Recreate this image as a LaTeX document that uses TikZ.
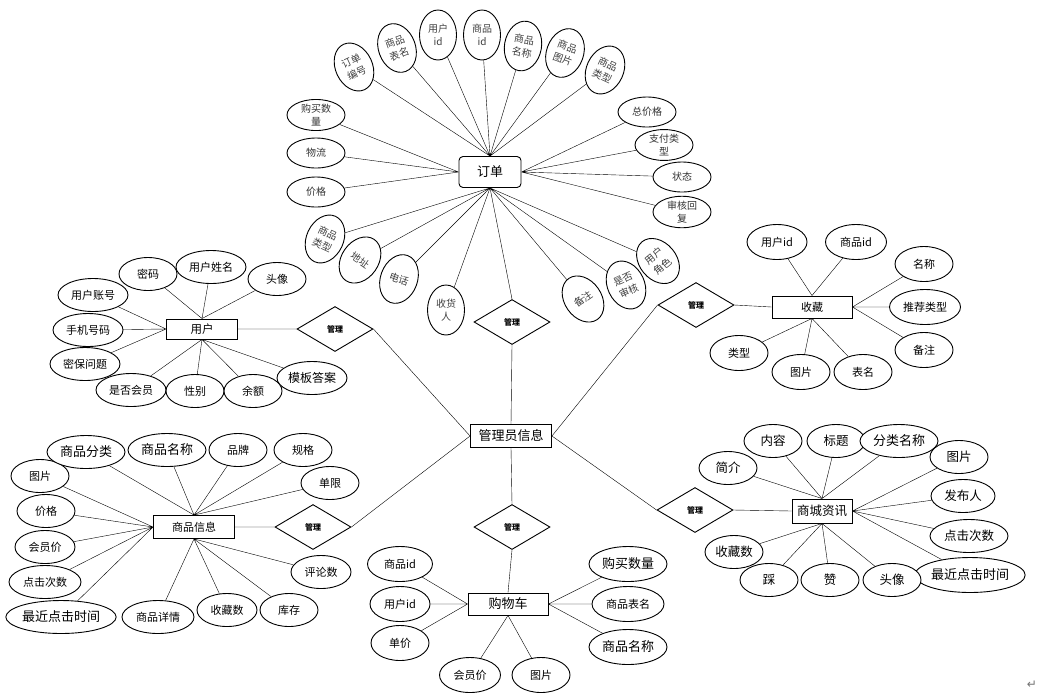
\documentclass[tikz,border=0pt]{standalone}
\usepackage{fontspec}
\setmainfont{Noto Sans CJK SC}
\newfontfamily\symfont{DejaVu Sans}
\usetikzlibrary{shapes.geometric,backgrounds}

\tikzset{
  attr/.style={ellipse,draw,fill=white,line width=0.9pt,inner sep=0pt,
    minimum width=58pt,minimum height=33pt,align=center,
    font=\fontsize{11}{13}\selectfont},
  oattr/.style={attr,minimum height=30pt,text=black!80,
    font=\fontsize{10}{13}\selectfont},
  vattr/.style={attr,minimum width=37pt,minimum height=50pt,text=black!75,
    font=\fontsize{10}{13.5}\selectfont},
  ent/.style={rectangle,draw,fill=white,line width=0.9pt,inner sep=0pt,
    minimum width=80pt,minimum height=22pt,font=\fontsize{12}{14}\selectfont},
  rel/.style={diamond,draw,fill=white,line width=0.9pt,inner sep=0pt,
    minimum width=76pt,minimum height=45pt,font=\fontsize{8}{9}\selectfont\bfseries},
  bigtxt/.style={font=\fontsize{13}{15}\selectfont},
  midtxt/.style={font=\fontsize{12.5}{14}\selectfont}
}

\begin{document}
\begin{tikzpicture}[x=1pt,y=-1pt]
\useasboundingbox (0,0) rectangle (1064,694);

% entities and relations
\node[ent,rounded corners=4pt,minimum width=62pt,minimum height=31pt,bigtxt] (order) at (490,172) {订单};
\node[ent,minimum width=81pt,minimum height=23pt,bigtxt] (admin) at (511,436) {管理员信息};
\node[ent,minimum width=71pt,minimum height=20pt,font=\fontsize{11.5}{13}\selectfont] (user) at (202,329) {用户};
\node[ent,minimum width=81pt,minimum height=23pt,font=\fontsize{11}{13}\selectfont] (goods) at (194,527) {商品信息};
\node[ent,font=\fontsize{11}{13}\selectfont] (fav) at (812,307) {收藏};
\node[ent,minimum width=60pt,minimum height=24pt,midtxt] (news) at (822,511) {商城资讯};
\node[ent,bigtxt] (cart) at (508,604) {购物车};

\node[rel] (r1) at (512,322) {管理};
\node[rel] (r2) at (335,329) {管理};
\node[rel] (r3) at (313,527) {管理};
\node[rel] (r4) at (696,305) {管理};
\node[rel] (r5) at (695,510) {管理};
\node[rel] (r6) at (512,527) {管理};

% 订单
\node[vattr,rotate=25] (o1) at (354,67) {订单\\编号};
\node[vattr,rotate=20] (o2) at (397,48) {商品\\表名};
\node[vattr] (o3) at (438,35) {用户\\id};
\node[vattr] (o4) at (482,35) {商品\\id};
\node[vattr,rotate=-10] (o5) at (523,46) {商品\\名称};
\node[vattr,rotate=-20] (o6) at (565,53) {商品\\图片};
\node[vattr,rotate=-25] (o7) at (605,70) {商品\\类型};
\node[oattr] (o8) at (316,115) {购买数\\量};
\node[oattr] (o9) at (316,153) {物流};
\node[oattr] (o10) at (316,192) {价格};
\node[oattr] (o11) at (647,112) {总价格};
\node[oattr] (o12) at (664,145) {支付类\\型};
\node[oattr] (o13) at (682,177) {状态};
\node[oattr] (o14) at (682,212) {审核回\\复};
\node[vattr,rotate=-25] (o15) at (325,239) {商品\\类型};
\node[vattr,rotate=-35] (o16) at (360,260) {地址};
\node[vattr,rotate=-20] (o17) at (399,279) {电话};
\node[vattr] (o18) at (446,310) {收货\\人};
\node[vattr,rotate=35] (o19) at (583,299) {备注};
\node[vattr,rotate=25] (o20) at (626,285) {是否\\审核};
\node[vattr,rotate=40] (o21) at (658,261) {用户\\角色};

% 用户
\node[attr] (u1) at (148,274) {密码};
\node[attr,minimum width=70pt] (u2) at (211,267) {用户姓名};
\node[attr] (u3) at (277,279) {头像};
\node[attr,minimum width=70pt] (u4) at (93,295) {用户账号};
\node[attr,minimum width=70pt] (u5) at (88,330) {手机号码};
\node[attr,minimum width=70pt] (u6) at (85,364) {密保问题};
\node[attr,minimum width=70pt] (u7) at (131,390) {是否会员};
\node[attr] (u8) at (195,391) {性别};
\node[attr] (u9) at (253,391) {余额};
\node[attr,minimum width=70pt,font=\fontsize{12}{14}\selectfont] (u10) at (312,378) {模板答案};

% 商品信息
\node[attr] (g2) at (40,476) {图片};
\node[attr,minimum width=78pt,bigtxt] (g1) at (86,452) {商品分类};
\node[attr,minimum width=78pt,bigtxt] (g3) at (167,450) {商品名称};
\node[attr] (g4) at (238,450) {品牌};
\node[attr] (g5) at (303,450) {规格};
\node[attr] (g6) at (330,483) {单限};
\node[attr] (g7) at (46,511) {价格};
\node[attr,minimum width=60pt] (g8) at (45,547) {会员价};
\node[attr,minimum width=72pt] (g9) at (45,582) {点击次数};
\node[attr,minimum width=104pt,bigtxt] (g10) at (61,617) {最近点击时间};
\node[attr,minimum width=72pt] (g11) at (158,617) {商品详情};
\node[attr,minimum width=60pt] (g12) at (227,610) {收藏数};
\node[attr] (g13) at (289,610) {库存};
\node[attr,minimum width=60pt] (g14) at (321,572) {评论数};

% 收藏
\node[attr,minimum width=60pt,minimum height=35pt] (f1) at (777,242) {用户id};
\node[attr,minimum width=61pt,minimum height=35pt] (f2) at (856,242) {商品id};
\node[attr,minimum height=35pt] (f3) at (924,264) {名称};
\node[attr,minimum width=71pt,minimum height=35pt] (f4) at (925,307) {推荐类型};
\node[attr,minimum height=35pt] (f5) at (924,350) {备注};
\node[attr,minimum height=35pt] (f6) at (739,353) {类型};
\node[attr,minimum height=35pt] (f7) at (801,372) {图片};
\node[attr,minimum height=35pt] (f8) at (863,372) {表名};

% 商城资讯
\node[attr,midtxt] (n1) at (728,468) {简介};
\node[attr,midtxt] (n2) at (773,441) {内容};
\node[attr,midtxt] (n3) at (836,441) {标题};
\node[attr,minimum width=78pt,bigtxt] (n4) at (899,441) {分类名称};
\node[attr,midtxt] (n5) at (959,457) {图片};
\node[attr,minimum width=64pt,midtxt] (n6) at (963,496) {发布人};
\node[attr,minimum width=78pt,midtxt] (n7) at (969,536) {点击次数};
\node[attr,minimum width=103pt,minimum height=35pt,bigtxt] (n8) at (970,575) {最近点击时间};
\node[attr,midtxt] (n9) at (734,552) {收藏数};
\node[attr,midtxt] (n10) at (769,580) {踩};
\node[attr,midtxt] (n11) at (830,580) {赞};
\node[attr,midtxt] (n12) at (892,580) {头像};

% 购物车
\node[attr,minimum width=65pt,minimum height=35pt] (c1) at (400,564) {商品id};
\node[attr,minimum width=60pt,minimum height=35pt] (c2) at (400,604) {用户id};
\node[attr,minimum height=35pt] (c3) at (400,643) {单价};
\node[attr,minimum width=61pt,minimum height=35pt] (c4) at (470,675) {会员价};
\node[attr,minimum height=35pt] (c5) at (541,675) {图片};
\node[attr,minimum width=78pt,minimum height=35pt,bigtxt] (c6) at (628,564) {购买数量};
\node[attr,minimum width=72pt,minimum height=35pt] (c7) at (628,604) {商品表名};
\node[attr,minimum width=78pt,minimum height=35pt,bigtxt] (c8) at (628,647) {商品名称};

\node[font=\symfont\fontsize{12}{12}\selectfont,text=black!55] (ret) at (1032,685) {↵};

\begin{scope}[on background layer,line width=0.9pt]
  \draw (order.south) -- (r1.north) (r1.south) -- (admin.north);
  \draw (user.east) -- (r2.west) (r2.east) -- (admin.west);
  \draw (goods.east) -- (r3.west) (r3.east) -- (admin.west);
  \draw (fav.west) -- (r4.east) (r4.west) -- (admin.east);
  \draw (news.west) -- (r5.east) (r5.west) -- (admin.east);
  \draw (admin.south) -- (r6.north) (r6.south) -- (cart.north);

  \draw (o1) -- (order.north) (o2) -- (order.north) (o3) -- (order.north)
        (o4) -- (order.north) (o5) -- (order.north) (o6) -- (order.north)
        (o7) -- (order.north);
  \draw (o8) -- (order.west) (o9) -- (order.west) (o10) -- (order.west);
  \draw (o11) -- (order.east) (o12) -- (order.east) (o13) -- (order.east)
        (o14) -- (order.east);
  \draw (o15) -- (order.south) (o16) -- (order.south) (o17) -- (order.south)
        (o18) -- (order.south) (o19) -- (order.south) (o20) -- (order.south)
        (o21) -- (order.south);

  \draw (u1) -- (user.north) (u2) -- (user.north) (u3) -- (user.north);
  \draw (u4) -- (user.west) (u5) -- (user.west) (u6) -- (user.west);
  \draw (u7) -- (user.south) (u8) -- (user.south) (u9) -- (user.south)
        (u10) -- (user.south);

  \draw (g1) -- (goods.north) (g3) -- (goods.north) (g4) -- (goods.north)
        (g5) -- (goods.north) (g6) -- (goods.north);
  \draw (g2) -- (goods.west) (g7) -- (goods.west) (g8) -- (goods.west)
        (g9) -- (goods.west) (g10) -- (goods.west);
  \draw (g11) -- (goods.south) (g12) -- (goods.south) (g13) -- (goods.south)
        (g14) -- (goods.south);

  \draw (f1) -- (fav.north) (f2) -- (fav.north);
  \draw (f3) -- (fav.east) (f4) -- (fav.east) (f5) -- (fav.east);
  \draw (f6) -- (fav.south) (f7) -- (fav.south) (f8) -- (fav.south);

  \draw (n1) -- (news.north) (n2) -- (news.north) (n3) -- (news.north)
        (n4) -- (news.north);
  \draw (n5) -- (news.east) (n6) -- (news.east) (n7) -- (news.east)
        (n8) -- (news.east);
  \draw (n9) -- (news.south) (n10) -- (news.south) (n11) -- (news.south)
        (n12) -- (news.south);

  \draw (c1) -- (cart.west) (c2) -- (cart.west) (c3) -- (cart.west);
  \draw (c4) -- (cart.south) (c5) -- (cart.south);
  \draw (c6) -- (cart.east) (c7) -- (cart.east) (c8) -- (cart.east);
\end{scope}
\end{tikzpicture}
\end{document}
